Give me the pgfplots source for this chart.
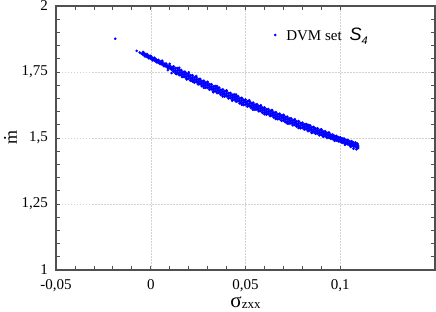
\documentclass[border=0pt]{standalone}
\usepackage{pgfplots}
\pgfplotsset{compat=1.18}
\usepackage{pgfplotstable}
\usepackage{fontspec}
\setmainfont{Liberation Serif}
\newfontfamily\arialfont{Liberation Sans}

% core of the scatter band: x, upper row u, middle row m, lower row l
\pgfplotstableread{
x u m l
-0.004 1.825 1.820 1.816
-0.003 1.818 1.814 1.810
-0.002 1.817 1.812 1.808
-0.001 1.811 1.807 1.803
0.000 1.810 1.805 1.801
0.001 1.803 1.799 1.795
0.002 1.803 1.798 1.794
0.003 1.796 1.792 1.788
0.004 1.795 1.790 1.786
0.005 1.789 1.785 1.781
0.006 1.788 1.783 1.779
0.007 1.781 1.777 1.773
0.008 1.781 1.776 1.772
0.009 1.774 1.770 1.766
0.010 1.774 1.769 1.765
0.011 1.767 1.763 1.759
0.012 1.771 1.762 1.753
0.013 1.764 1.755 1.746
0.014 1.764 1.755 1.746
0.015 1.757 1.748 1.739
0.016 1.757 1.748 1.739
0.017 1.750 1.741 1.732
0.018 1.750 1.741 1.732
0.019 1.743 1.734 1.725
0.020 1.743 1.734 1.725
0.021 1.736 1.727 1.718
0.022 1.737 1.728 1.719
0.023 1.729 1.720 1.711
0.024 1.730 1.721 1.712
0.025 1.722 1.713 1.704
0.026 1.723 1.714 1.705
0.027 1.715 1.706 1.697
0.028 1.716 1.707 1.698
0.029 1.709 1.700 1.691
0.030 1.709 1.700 1.691
0.031 1.702 1.693 1.684
0.032 1.703 1.694 1.685
0.033 1.695 1.686 1.677
0.034 1.696 1.687 1.678
0.035 1.689 1.680 1.671
0.036 1.690 1.681 1.672
0.037 1.682 1.673 1.664
0.038 1.683 1.674 1.665
0.039 1.676 1.667 1.658
0.040 1.677 1.668 1.659
0.041 1.669 1.660 1.651
0.042 1.670 1.661 1.652
0.043 1.663 1.654 1.645
0.044 1.664 1.655 1.646
0.045 1.657 1.648 1.639
0.046 1.658 1.649 1.640
0.047 1.650 1.641 1.632
0.048 1.651 1.642 1.633
0.049 1.644 1.635 1.626
0.050 1.645 1.636 1.627
0.051 1.638 1.629 1.620
0.052 1.639 1.630 1.621
0.053 1.632 1.623 1.614
0.054 1.633 1.624 1.615
0.055 1.626 1.617 1.608
0.056 1.627 1.618 1.609
0.057 1.620 1.611 1.602
0.058 1.621 1.612 1.603
0.059 1.614 1.605 1.596
0.060 1.615 1.606 1.597
0.061 1.608 1.599 1.590
0.062 1.609 1.600 1.591
0.063 1.602 1.593 1.584
0.064 1.603 1.594 1.585
0.065 1.596 1.587 1.578
0.066 1.597 1.588 1.579
0.067 1.590 1.581 1.572
0.068 1.591 1.582 1.573
0.069 1.584 1.575 1.566
0.070 1.585 1.576 1.567
0.071 1.579 1.570 1.561
0.072 1.580 1.571 1.562
0.073 1.573 1.564 1.555
0.074 1.574 1.565 1.556
0.075 1.567 1.558 1.549
0.076 1.568 1.559 1.550
0.077 1.562 1.553 1.544
0.078 1.563 1.554 1.545
0.079 1.556 1.547 1.538
0.080 1.557 1.548 1.539
0.081 1.551 1.542 1.533
0.082 1.552 1.543 1.534
0.083 1.545 1.536 1.527
0.084 1.547 1.538 1.529
0.085 1.540 1.531 1.522
0.086 1.541 1.532 1.523
0.087 1.535 1.526 1.517
0.088 1.536 1.527 1.518
0.089 1.529 1.520 1.511
0.090 1.531 1.522 1.513
0.091 1.524 1.515 1.506
0.092 1.525 1.516 1.507
0.093 1.519 1.510 1.501
0.094 1.520 1.511 1.502
0.095 1.512 1.504 1.498
0.096 1.512 1.505 1.497
0.097 1.507 1.499 1.493
0.098 1.507 1.500 1.492
0.099 1.502 1.494 1.488
0.100 1.502 1.495 1.487
0.101 1.497 1.489 1.483
0.102 1.497 1.490 1.482
0.103 1.492 1.484 1.478
0.104 1.492 1.485 1.477
0.105 1.487 1.479 1.473
0.106 1.487 1.480 1.472
0.107 1.482 1.474 1.468
0.108 1.482 1.475 1.467
0.109 1.477 1.469 1.463
}\coretable

% scattered points around the band
\pgfplotstableread{
x y
-0.0187 1.876
-0.0074 1.830
-0.0058 1.824
-0.0049 1.819
0.006 1.793
0.009 1.757
0.010 1.781
0.011 1.746
0.0135 1.742
0.015 1.766
0.0165 1.731
0.019 1.722
0.020 1.749
0.022 1.714
0.024 1.735
0.028 1.690
0.030 1.713
0.033 1.673
0.035 1.697
0.038 1.657
0.040 1.681
0.043 1.641
0.045 1.665
0.048 1.626
0.052 1.643
0.054 1.607
0.058 1.624
0.060 1.590
0.064 1.606
0.066 1.572
0.070 1.588
0.072 1.555
0.076 1.571
0.078 1.538
0.083 1.550
0.085 1.519
0.090 1.533
0.091 1.506
0.097 1.489
0.1025 1.474
0.1055 1.466
0.107 1.459
0.1085 1.457
0.1095 1.462
0.1095 1.470
0.109 1.478
}\edgetable

\definecolor{axisgray}{HTML}{505050}
\definecolor{gridgray}{HTML}{D2D2D2}

\begin{document}
\begin{tikzpicture}
\begin{axis}[
  scale only axis,
  width=379pt, height=264pt,
  xmin=-0.05, xmax=0.15,
  ymin=1, ymax=2,
  xtick={-0.05,0,0.05,0.1},
  xticklabels={{-0,05},{0},{0,05},{0,1}},
  ytick={1,1.25,1.5,1.75,2},
  yticklabels={{1},{1,25},{1,5},{1,75},{2}},
  minor x tick num=4,
  minor y tick num=4,
  tick align=inside,
  major tick length=4pt,
  minor tick length=4pt,
  tick style={axisgray, line width=0.7pt},
  axis line style={axisgray, line width=1.4pt},
  xmajorgrids, ymajorgrids,
  major grid style={gridgray, line width=0.5pt, dash pattern=on 1.5pt off 1.5pt},
  ticklabel style={font=\fontsize{15}{17}\selectfont, inner sep=1pt},
  xticklabel style={yshift=-8pt},
  yticklabel style={xshift=-7pt},
  xlabel={\fontsize{21}{23}\selectfont σ\raisebox{-1pt}{\fontsize{13}{14}\selectfont zxx}},
  xlabel style={at={(axis description cs:0.5,0)}, anchor=base, yshift=-38pt, inner sep=0pt},
  ylabel={\fontsize{18}{20}\selectfont\makebox[0pt][l]{\hspace{4.8pt}\raisebox{11pt}{.}}m},
  ylabel style={at={(axis description cs:-0.1029,0.5)}, anchor=base, inner sep=0pt},
  legend style={draw=none, fill=none, at={(0.567,0.89)}, anchor=west,
    font=\fontsize{15}{17}\selectfont},
  legend cell align=left,
]
\addplot[only marks, mark=*, mark size=1.4pt, blue, forget plot] table[x=x, y=u] {\coretable};
\addplot[only marks, mark=*, mark size=1.4pt, blue, forget plot] table[x=x, y=m] {\coretable};
\addplot[only marks, mark=*, mark size=1.4pt, blue, forget plot] table[x=x, y=l] {\coretable};
\addplot[only marks, mark=*, mark size=1.1pt, blue] table[x=x, y=y] {\edgetable};
\addlegendentry{\hspace{8pt}DVM set\hspace{8pt}{\arialfont\itshape\fontsize{18}{19}\selectfont S\raisebox{-4pt}{\fontsize{11}{12}\selectfont 4}}}
\end{axis}
\pgfresetboundingbox
\path[use as bounding box] ([shift={(-56pt,-42pt)}]current axis.south west) rectangle ([shift={(1pt,6pt)}]current axis.north east);
\end{tikzpicture}
\end{document}
